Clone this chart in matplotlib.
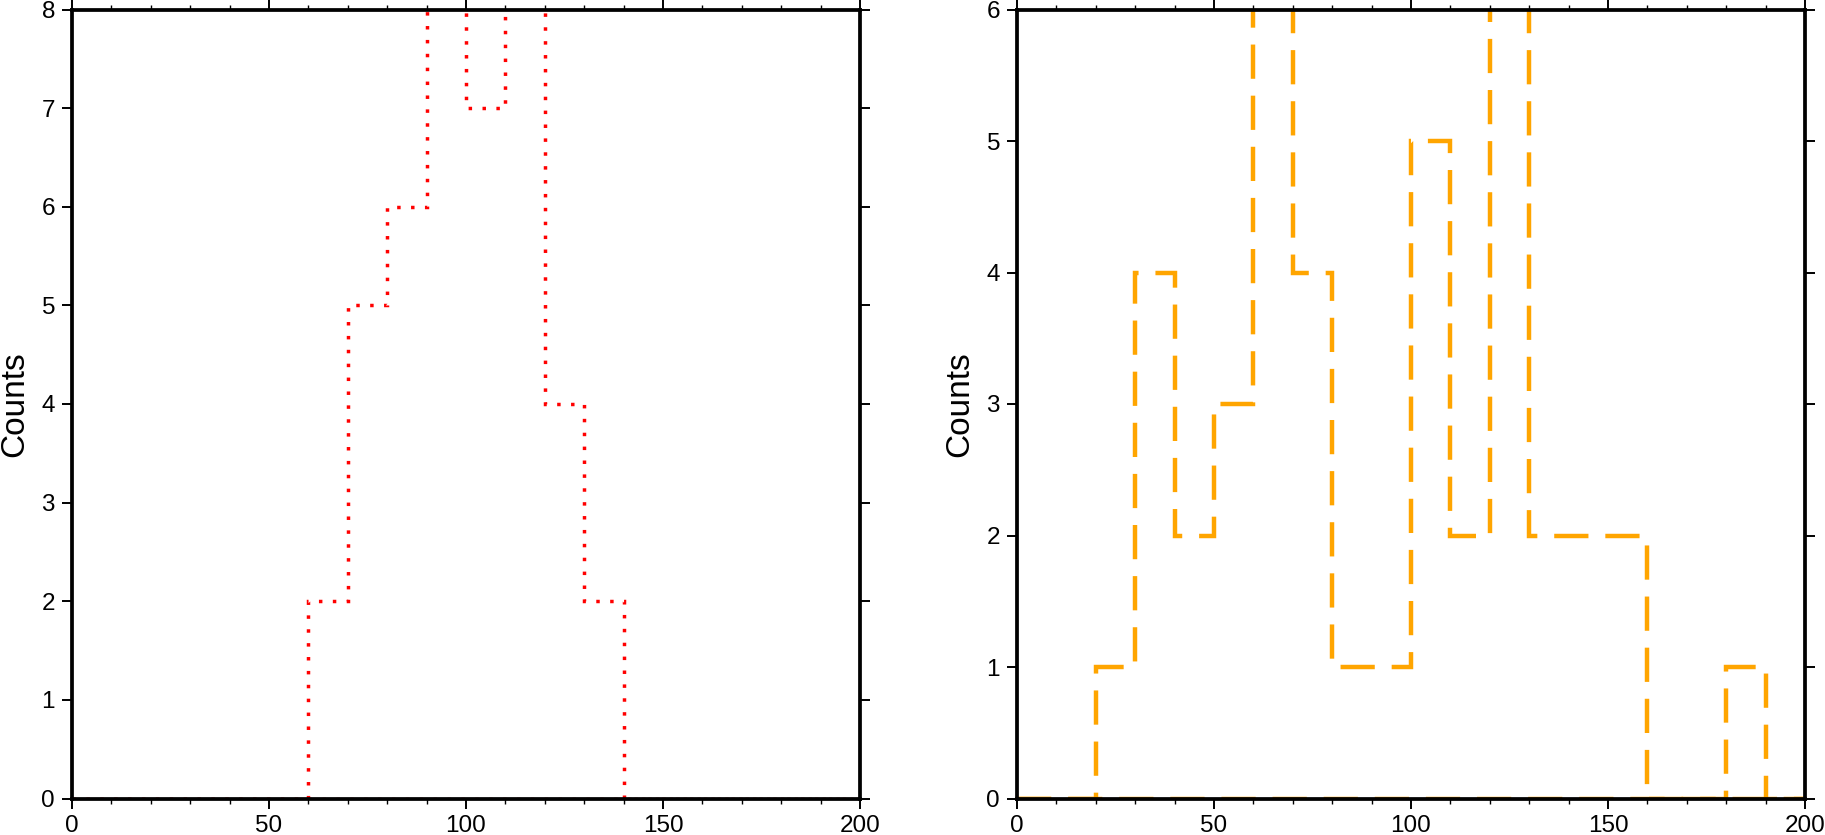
"""
Dois histogramas lado a lado (estilo GMT): contorno pontilhado vermelho
e contorno tracejado laranja, caixas de 10 unidades entre 0 e 200.
"""

import numpy as np
import matplotlib
matplotlib.use('Agg')
import matplotlib.pyplot as plt
from matplotlib.ticker import MultipleLocator

plt.rcParams['font.family'] = ['Liberation Sans', 'DejaVu Sans']

# ── Dados ────────────────────────────────────────────────────────────────
BIN_EDGES    = list(range(0, 210, 10))
LEFT_COUNTS  = [0, 0, 0, 0, 0, 0, 2, 5, 6, 9, 7, 9, 4, 2, 0, 0, 0, 0, 0, 0]
RIGHT_COUNTS = [0, 0, 1, 4, 2, 3, 7, 4, 1, 1, 5, 2, 7, 2, 2, 2, 0, 0, 1, 0]
LEFT_YMAX    = 8
RIGHT_YMAX   = 6
YLABEL       = 'Counts'

W, H, DPI = 1825, 835, 100


def draw_hist(ax, counts, ymax, color, lw, dashes):
    edges = np.array(BIN_EDGES)
    style = dict(color=color, linewidth=lw, linestyle=(0, dashes))
    # contorno em degraus + linha de base (polígono fechado como no GMT)
    ax.stairs(counts, edges, baseline=0, fill=False, zorder=2, **style)
    ax.plot([edges[0], edges[-1]], [0, 0], zorder=2,
            solid_capstyle='butt', **style)

    ax.set_xlim(0, 200)
    ax.set_ylim(0, ymax)
    ax.xaxis.set_major_locator(MultipleLocator(50))
    ax.xaxis.set_minor_locator(MultipleLocator(10))
    ax.yaxis.set_major_locator(MultipleLocator(1))
    ax.tick_params(which='both', direction='out', top=True, right=True,
                   labeltop=False, labelright=False, color='black')
    ax.tick_params(which='major', length=7.2, width=1.4, pad=5,
                   labelsize=17.5)
    ax.tick_params(which='minor', length=3.5, width=1.0)
    for s in ax.spines.values():
        s.set_linewidth(2.7)
        s.set_zorder(5)
    ax.set_ylabel(YLABEL, fontsize=24, labelpad=8)


fig = plt.figure(figsize=(W / DPI, H / DPI), dpi=DPI)
ax1 = fig.add_axes([72 / W, 1 - 798.5 / H, 788 / W, 789 / H])
ax2 = fig.add_axes([1017 / W, 1 - 798.5 / H, 788 / W, 789 / H])

draw_hist(ax1, LEFT_COUNTS, LEFT_YMAX, '#ff0000', 2.5, (1.0, 3.0))
draw_hist(ax2, RIGHT_COUNTS, RIGHT_YMAX, '#ffa500', 3.2, (7.7, 3.8))

fig.savefig('out.png', dpi=DPI)
